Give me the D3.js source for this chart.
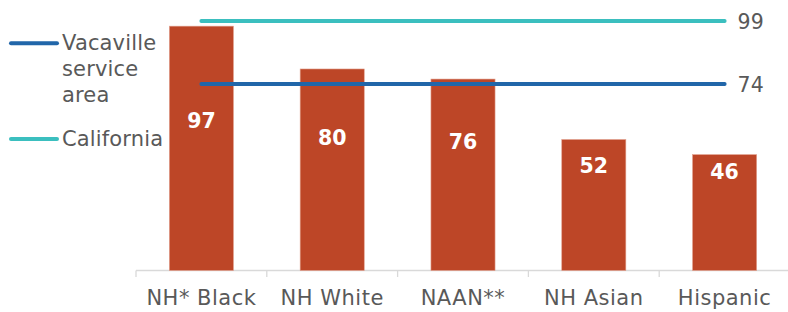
<!DOCTYPE html>
<html>
<head>
<meta charset="utf-8">
<script src="https://cdn.jsdelivr.net/npm/d3@7"></script>
<style>
  html, body { margin: 0; padding: 0; background: #fff; }
  svg { display: block; font-family: "DejaVu Sans", Verdana, sans-serif; }
</style>
</head>
<body>
<svg id="chart" width="788" height="312"></svg>
<script>
const categories = ["NH* Black", "NH White", "NAAN**", "NH Asian", "Hispanic"];
const values = [97, 80, 76, 52, 46];
const refNames = ["Vacaville service area", "California"];
const refLegendLines = [["Vacaville", "service", "area"], ["California"]];
const refValues = [74, 99];
const refColors = ["#2166A9", "#3BBFBF"];

const barColor = "#BD4627";
const textColor = "#595959";

const svg = d3.select("#chart");
const x = d3.scaleBand().domain(categories).range([136, 790]).paddingInner(0.51).paddingOuter(0.255);
const y = d3.scaleLinear().domain([0, 100]).range([270.5, 18.6]);
const step = x.step();

// axis line & ticks
const baseY = y(0);
svg.append("line").attr("x1", 136).attr("x2", 790).attr("y1", baseY).attr("y2", baseY)
  .attr("stroke", "#D9D9D9").attr("stroke-width", 1.3);
categories.forEach(c => {
  const bx = x(c) + x.bandwidth() / 2 - step / 2;
  svg.append("line").attr("x1", bx).attr("x2", bx).attr("y1", baseY).attr("y2", baseY + 6.5)
    .attr("stroke", "#D9D9D9").attr("stroke-width", 1.3);
});

// bars
svg.selectAll("rect.bar").data(values).enter().append("rect")
  .attr("class", "bar")
  .attr("x", (d, i) => x(categories[i]))
  .attr("width", x.bandwidth())
  .attr("y", d => y(d))
  .attr("height", d => y(0) - y(d))
  .attr("fill", barColor)
  .attr("stroke", "#E2A08E").attr("stroke-width", 0.6);

// bar labels
svg.selectAll("text.val").data(values).enter().append("text")
  .attr("class", "val")
  .attr("x", (d, i) => x(categories[i]) + x.bandwidth() / 2)
  .attr("y", d => y(21.2 + 0.394 * d) + 7.4)
  .attr("text-anchor", "middle")
  .attr("font-size", 20.5).attr("font-weight", "bold").attr("fill", "#fff")
  .text(d => d);

// category labels
svg.selectAll("text.cat").data(categories).enter().append("text")
  .attr("class", "cat")
  .attr("x", d => x(d) + x.bandwidth() / 2)
  .attr("y", 305)
  .attr("text-anchor", "middle")
  .attr("font-size", 21).attr("letter-spacing", 0.5).attr("fill", textColor)
  .text(d => d);

// reference lines
const x0 = x(categories[0]) + x.bandwidth() / 2;
const x1 = x(categories[categories.length - 1]) + x.bandwidth() / 2;
refValues.forEach((v, i) => {
  svg.append("line").attr("x1", x0).attr("x2", x1).attr("y1", y(v)).attr("y2", y(v))
    .attr("stroke", refColors[i]).attr("stroke-width", 4).attr("stroke-linecap", "round");
  svg.append("text").attr("x", x1 + 13).attr("y", y(v) + 7.5)
    .attr("font-size", 20.5).attr("fill", textColor).text(v);
});

// legend
const legendY = [43.3, 139];
refNames.forEach((n, i) => {
  const g = svg.append("g").attr("class", "legend");
  g.append("line").attr("x1", 11).attr("x2", 57).attr("y1", legendY[i]).attr("y2", legendY[i])
    .attr("stroke", refColors[i]).attr("stroke-width", 4).attr("stroke-linecap", "round");
  const t = g.append("text").attr("font-size", 21).attr("letter-spacing", 0.15).attr("fill", textColor);
  refLegendLines[i].forEach((ln, j) => {
    t.append("tspan").attr("x", 62).attr("y", legendY[i] + 7 + j * 26).text(ln);
  });
});
</script>
</body>
</html>
